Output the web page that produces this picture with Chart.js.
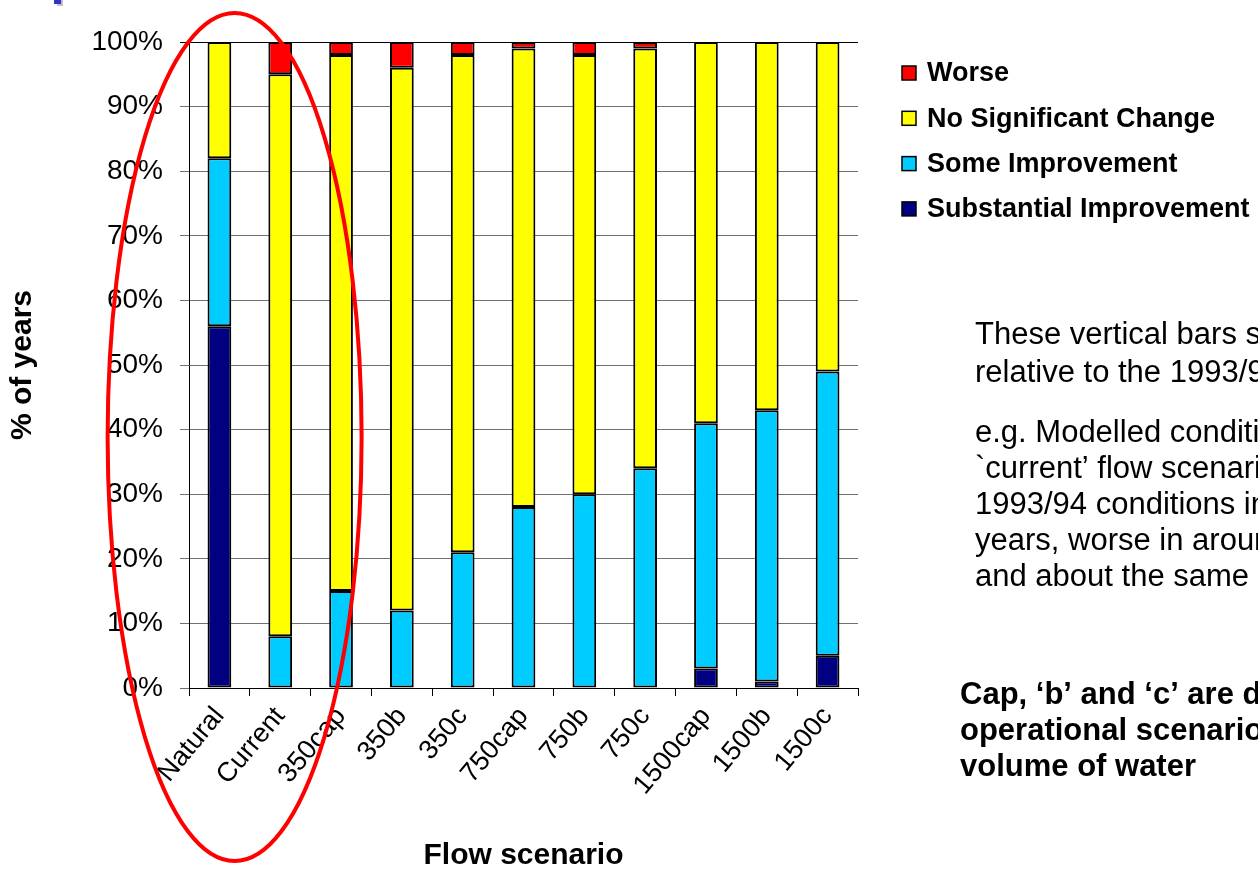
<!DOCTYPE html>
<html>
<head>
<meta charset="utf-8">
<script src="https://cdn.jsdelivr.net/npm/chart.js@4/dist/chart.umd.min.js"></script>
<style>
  html, body { margin: 0; padding: 0; background: #ffffff; overflow: hidden; }
  #wrap { width: 1258px; height: 871px; position: relative; }
</style>
</head>
<body>
<div id="wrap"><canvas id="chart" width="1258" height="871"></canvas></div>
<script>
// Flow scenarios along the x axis
const categories = ['Natural', 'Current', '350cap', '350b', '350c', '750cap', '750b', '750c', '1500cap', '1500b', '1500c'];

// Share of years (%) in each outcome class, per scenario
const substantialImprovement = [56, 0, 0, 0, 0, 0, 0, 0, 3, 1, 5];
const someImprovement        = [26, 8, 15, 12, 21, 28, 30, 34, 38, 42, 44];
const noSignificantChange    = [18, 87, 83, 84, 77, 71, 68, 65, 59, 57, 51];
const worse                  = [0, 5, 2, 4, 2, 1, 2, 1, 0, 0, 0];

// Y axis tick labels, 0% .. 100%
const yTickLabels = ['0%', '10%', '20%', '30%', '40%', '50%', '60%', '70%', '80%', '90%', '100%'];

// Series names and fills (bottom of the stack first)
const seriesNames  = ['Substantial Improvement', 'Some Improvement', 'No Significant Change', 'Worse'];
const seriesColors = ['#000080', '#00CCFF', '#FFFF00', '#FF0000'];

// Side notes
const noteLines = [
  'These vertical bars show the change',
  'relative to the 1993/94 conditions'
];
const exampleLines = [
  'e.g. Modelled conditions under the',
  '`current\u2019 flow scenario are better than',
  '1993/94 conditions in about 8% of',
  'years, worse in around 5% of years',
  'and about the same in the rest'
];
const boldLines = [
  'Cap, \u2018b\u2019 and \u2018c\u2019 are different',
  'operational scenarios for the same',
  'volume of water'
];

const FONT = '"Liberation Sans", Arial, Helvetica, sans-serif';

const seriesData = [substantialImprovement, someImprovement, noSignificantChange, worse];
const datasets = seriesNames.map((name, i) => ({
  label: name,
  data: seriesData[i],
  backgroundColor: seriesColors[i],
  borderColor: '#000000',
  borderWidth: 2,
  borderSkipped: false,
  barPercentage: 0.39,
  categoryPercentage: 1.0
}));

// Legend, notes, highlight ring and slide bullet
const decorations = {
  id: 'decorations',
  afterDraw(chart) {
    const ctx = chart.ctx;
    const area = chart.chartArea;
    const xs = chart.scales.x;
    ctx.save();

    // slide bullet in the corner
    ctx.fillStyle = '#c0c0c0';
    ctx.fillRect(57, 0, 6, 6);
    ctx.fillStyle = '#3333cc';
    ctx.fillRect(54, 0, 7, 4);

    // legend, top series first
    ctx.font = 'bold 27px ' + FONT;
    ctx.textBaseline = 'middle';
    ctx.textAlign = 'left';
    const legendX = 902;
    let ly = area.top + 31;
    for (let i = seriesNames.length - 1; i >= 0; i--) {
      ctx.fillStyle = seriesColors[i];
      ctx.fillRect(legendX, ly - 7, 14, 14);
      ctx.strokeStyle = '#000';
      ctx.lineWidth = 1.5;
      ctx.strokeRect(legendX, ly - 7, 14, 14);
      ctx.fillStyle = '#000';
      ctx.fillText(seriesNames[i], legendX + 25, ly + 1);
      ly += 45.3;
    }

    // explanatory notes
    ctx.font = '31px ' + FONT;
    ctx.textBaseline = 'alphabetic';
    let ty = 344;
    noteLines.forEach(t => { ctx.fillText(t, 975, ty); ty += 38; });
    ty = 442;
    exampleLines.forEach(t => { ctx.fillText(t, 975, ty); ty += 36; });
    ctx.font = 'bold 31px ' + FONT;
    ty = 704;
    boldLines.forEach(t => { ctx.fillText(t, 960, ty); ty += 36; });

    // red ring round the first two scenarios
    const step = xs.getPixelForValue(1) - xs.getPixelForValue(0);
    const cx = xs.getPixelForValue(0) + 0.25 * step;
    ctx.beginPath();
    ctx.ellipse(cx, 437, 127, 424, 0, 0, Math.PI * 2);
    ctx.strokeStyle = '#ff0000';
    ctx.lineWidth = 4;
    ctx.stroke();

    ctx.restore();
  }
};

new Chart(document.getElementById('chart'), {
  type: 'bar',
  data: { labels: categories, datasets },
  options: {
    responsive: false,
    animation: false,
    layout: { padding: { left: 4, right: 400, top: 42, bottom: 0 } },
    plugins: { legend: { display: false }, tooltip: { enabled: false } },
    scales: {
      x: {
        stacked: true,
        grid: { offset: true, drawOnChartArea: false, drawTicks: true, tickLength: 8, color: '#000', lineWidth: 1 },
        border: { display: true, color: '#000', width: 1 },
        ticks: { color: '#000', font: { family: FONT, size: 27 }, minRotation: 50, maxRotation: 50, autoSkip: false, padding: 5 },
        title: { display: true, text: 'Flow scenario', color: '#000', font: { family: FONT, size: 30, weight: 'bold', lineHeight: 1 }, padding: { top: 0, bottom: 0 } },
        afterFit(scale) { scale.height = 183; }
      },
      y: {
        stacked: true,
        min: 0,
        max: 100,
        grid: {
          color: c => (c.tick && c.tick.value === 100 ? '#000' : '#707070'),
          lineWidth: 1,
          tickLength: 9
        },
        border: { display: true, color: '#000', width: 1 },
        ticks: {
          stepSize: 10,
          color: '#000',
          font: { family: FONT, size: 28 },
          padding: 17,
          callback: (v, i) => yTickLabels[i]
        },
        title: { display: true, text: '% of years', color: '#000', font: { family: FONT, size: 30, weight: 'bold', lineHeight: 1 }, padding: { top: 4, bottom: 0 } },
        afterFit(scale) { scale.width = 185; }
      }
    }
  },
  plugins: [decorations]
});
</script>
</body>
</html>
